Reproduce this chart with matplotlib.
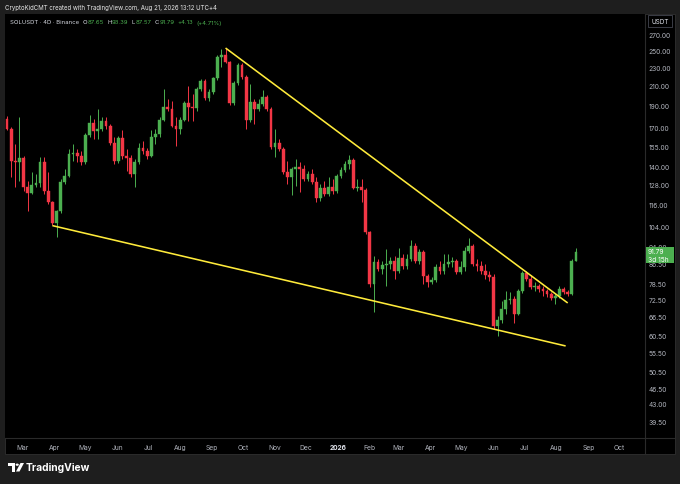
import numpy as np
import pandas as pd
import matplotlib
matplotlib.use('Agg')
import matplotlib.pyplot as plt
from matplotlib.patches import Rectangle, Circle, Polygon
from matplotlib.lines import Line2D
from matplotlib.ticker import NullLocator

plt.rcParams['font.family'] = ['Inter', 'DejaVu Sans']

W, H = 680, 485

# ---- SOLUSDT 4D candles ----
opens = [177.7, 169.1, 144.1, 143.4, 146.3, 126.6, 122.9, 127.9, 129.2, 143.4,
         124.1, 117.5, 106.0, 112.4, 129.8, 133.8, 149.2, 150.0, 147.8, 143.4,
         164.1, 174.1, 167.4, 169.1, 175.9, 171.6, 157.7, 144.1, 161.6, 147.8,
         146.3, 135.1, 143.4, 153.8, 151.5, 147.8, 162.5, 164.9, 176.8, 188.6,
         186.8, 171.6, 169.1, 176.8, 192.5, 188.6, 187.7, 206.3, 214.7, 197.3,
         203.3, 217.9, 242.0, 244.4, 236.0, 192.5, 212.6, 232.5, 219.0, 176.8,
         193.4, 186.8, 191.5, 198.3, 186.8, 154.6, 157.7, 153.0, 136.5, 133.1,
         138.5, 139.9, 138.5, 131.8, 135.1, 129.8, 119.9, 126.0, 122.3, 126.6,
         124.1, 133.8, 137.8, 142.0, 144.8, 126.0, 126.6, 124.8, 101.2, 78.1,
         87.2, 84.2, 85.9, 86.3, 87.6, 83.4, 89.0, 85.5, 88.5, 94.4,
         87.6, 91.6, 81.3, 78.9, 79.7, 85.0, 83.4, 86.3, 87.2, 87.6,
         83.0, 85.0, 92.1, 94.4, 86.3, 85.5, 83.4, 81.7, 80.9, 63.4,
         65.3, 69.0, 72.2, 72.5, 67.3, 75.4, 82.5, 80.1, 77.0, 77.4,
         76.2, 75.4, 74.3, 72.9, 73.6, 76.2, 75.1, 74.3, 87.65]
closes = [169.1, 144.1, 143.4, 146.3, 126.6, 122.9, 127.9, 129.2, 143.4, 124.1,
          117.5, 106.0, 112.4, 129.8, 133.8, 149.2, 150.0, 147.8, 143.4, 164.1,
          174.1, 167.4, 169.1, 175.9, 171.6, 157.7, 144.1, 161.6, 147.8, 146.3,
          135.1, 143.4, 153.8, 151.5, 147.8, 162.5, 164.9, 176.8, 188.6, 186.8,
          171.6, 169.1, 176.8, 192.5, 188.6, 187.7, 206.3, 214.7, 197.3, 203.3,
          217.9, 242.0, 244.4, 236.0, 192.5, 212.6, 232.5, 219.0, 176.8, 193.4,
          186.8, 191.5, 198.3, 186.8, 154.6, 157.7, 153.0, 136.5, 133.1, 138.5,
          139.9, 138.5, 131.8, 135.1, 129.8, 119.9, 126.0, 122.3, 126.6, 124.1,
          133.8, 137.8, 142.0, 144.8, 126.0, 126.6, 124.8, 101.2, 78.1, 87.2,
          84.2, 85.9, 86.3, 87.6, 83.4, 89.0, 85.5, 88.5, 94.4, 87.6,
          91.6, 81.3, 78.9, 79.7, 85.0, 83.4, 86.3, 87.2, 87.6, 83.0,
          85.0, 92.1, 94.4, 86.3, 85.5, 83.4, 81.7, 80.9, 63.4, 65.3,
          69.0, 72.2, 72.5, 67.3, 75.4, 82.5, 80.1, 77.0, 77.4, 76.2,
          75.4, 74.3, 72.9, 73.6, 76.2, 75.1, 74.3, 87.6, 91.79]
highs = [180.4, 170.8, 156.9, 179.5, 147.8, 130.5, 136.5, 135.1, 147.0, 147.0,
         136.5, 118.1, 113.0, 131.8, 138.5, 153.0, 156.9, 153.0, 151.5, 165.8,
         181.3, 177.7, 186.8, 179.5, 179.5, 173.3, 162.5, 163.3, 168.2, 153.0,
         148.5, 145.6, 157.7, 159.3, 153.8, 168.2, 169.1, 179.5, 206.3, 196.3,
         194.4, 179.5, 179.5, 194.4, 209.5, 201.3, 208.4, 216.8, 216.8, 206.3,
         219.0, 244.4, 251.8, 253.0, 237.2, 214.7, 234.9, 234.9, 221.2, 211.5,
         196.3, 196.3, 205.3, 200.3, 188.6, 169.1, 160.9, 154.6, 144.1, 139.9,
         145.6, 143.4, 141.3, 137.1, 138.5, 133.1, 128.5, 130.5, 133.1, 131.8,
         135.1, 139.9, 144.1, 148.5, 146.3, 131.8, 131.8, 126.0, 101.7, 89.8,
         88.5, 87.6, 93.0, 89.4, 89.8, 93.5, 90.7, 90.7, 97.2, 95.8,
         93.0, 92.6, 82.1, 80.9, 86.3, 87.6, 90.7, 90.7, 89.4, 88.5,
         87.6, 93.9, 98.2, 95.3, 88.5, 87.6, 86.3, 83.4, 82.1, 66.7,
         71.8, 75.4, 75.1, 73.6, 76.2, 83.4, 83.4, 81.7, 78.9, 78.1,
         77.4, 76.2, 75.1, 74.3, 77.4, 77.0, 75.8, 88.5, 93.39]
lows = [168.2, 133.1, 126.6, 130.5, 124.1, 112.4, 122.3, 126.6, 126.6, 122.3,
        116.4, 104.8, 98.7, 111.3, 128.5, 133.1, 144.1, 143.4, 141.3, 142.0,
        162.5, 160.9, 160.9, 167.4, 169.1, 156.1, 142.0, 142.7, 145.6, 137.1,
        133.1, 126.6, 142.0, 149.2, 145.6, 147.0, 156.9, 162.5, 175.9, 184.9,
        170.8, 155.3, 164.9, 175.9, 175.9, 175.9, 184.9, 204.3, 195.4, 194.4,
        201.3, 215.8, 230.2, 234.9, 190.5, 190.5, 210.5, 216.8, 169.1, 175.0,
        173.3, 184.9, 189.6, 184.9, 153.0, 147.0, 151.5, 135.1, 128.5, 121.7,
        127.3, 123.5, 130.5, 130.5, 128.5, 117.5, 118.1, 121.1, 121.1, 122.3,
        122.9, 132.5, 136.5, 138.5, 125.4, 124.1, 117.5, 100.2, 77.0, 67.9,
        83.4, 82.1, 77.4, 84.2, 80.1, 82.5, 84.2, 84.2, 87.6, 86.8,
        86.3, 78.1, 77.0, 78.1, 78.9, 82.1, 82.1, 85.0, 85.0, 82.1,
        82.1, 83.4, 91.2, 85.5, 83.4, 82.1, 80.1, 79.3, 62.5, 60.3,
        64.3, 67.3, 70.8, 64.3, 67.0, 74.7, 79.3, 76.2, 75.4, 75.1,
        73.6, 73.3, 72.2, 70.8, 72.9, 74.3, 73.6, 74.0, 87.57]
dates = pd.date_range(end='2026-08-20', periods=len(closes), freq='4D')

# falling wedge drawn on the chart
upper_dates = pd.to_datetime(['2025-09-14', '2026-08-12'])
upper_prices = [253.0, 71.1]
lower_dates = pd.to_datetime(['2025-03-30', '2026-08-10'])
lower_prices = [104.5, 57.4]

price_ticks = [270, 250, 230, 210, 190, 170, 155, 140, 128, 116, 104, 94,
               86.5, 78.5, 72.5, 66.5, 60.5, 55.5, 50.5, 46.5, 43, 39.5]
month_ticks = pd.date_range('2025-03-01', '2026-10-01', freq='MS')
month_labels = [str(d.year) if d.month == 1 else d.strftime('%b') for d in month_ticks]

legend_parts = [('SOLUSDT · 4D · Binance', ''), ('O', '87.65'), ('H', '93.39'),
                ('L', '87.57'), ('C', '91.79'), ('', '+4.13'), ('', '(+4.71%)')]

GREEN = '#4caf50'
RED = '#f23645'
TXT = '#d1d4dc'
AX_TXT = '#b2b5be'
LINE = '#2a2a2a'

def fx(x):
    return x / W

def fy(y):
    return 1 - y / H

fig = plt.figure(figsize=(6.8, 4.85), dpi=100)
fig.patch.set_facecolor('#1e1e1e')

# black chart panel
fig.add_artist(Rectangle((fx(5), fy(455)), fx(670), (455 - 15) / H, transform=fig.transFigure,
                         facecolor='black', edgecolor='#303030', lw=0.6, zorder=-1))

ax = fig.add_axes([fx(5), fy(439), fx(640), (439 - 15) / H])
ax.set_facecolor('black')

o = np.array(opens)
c = np.array(closes)
cols = np.where(c >= o, GREEN, RED)
ax.vlines(dates, lows, highs, colors=cols, lw=0.7, zorder=2)
ax.bar(dates, np.abs(c - o), bottom=np.minimum(o, c), width=2.7,
       color=cols, edgecolor=cols, lw=0.3, zorder=3)

ax.plot(upper_dates, upper_prices, color='#ffeb3b', lw=1.15, zorder=4, solid_capstyle='butt')
ax.plot(lower_dates, lower_prices, color='#ffeb3b', lw=1.15, zorder=4, solid_capstyle='butt')

ax.set_yscale('log')
ax.set_ylim(36.3, 299.7)
ax.set_xlim(pd.Timestamp('2025-02-12'), pd.Timestamp('2026-10-26'))

ax.yaxis.tick_right()
ax.set_yticks(price_ticks)
ax.set_yticklabels([f'{p:.2f}' for p in price_ticks])
ax.yaxis.set_minor_locator(NullLocator())
ax.tick_params(axis='y', length=0, pad=2.5, labelsize=4.8, labelcolor=AX_TXT)

ax.set_xticks(month_ticks)
ax.set_xticklabels(month_labels)
ax.tick_params(axis='x', length=0, pad=4.5, labelsize=4.8, labelcolor=AX_TXT)
for lab in ax.get_xticklabels():
    if lab.get_text() == '2026':
        lab.set_fontweight('bold')
        lab.set_color('#e0e3eb')

for s in ['left', 'top', 'right', 'bottom']:
    ax.spines[s].set_visible(False)

# separators of price and time scales
fig.add_artist(Line2D([fx(645), fx(645)], [fy(15), fy(455)], transform=fig.transFigure, color=LINE, lw=0.8))
fig.add_artist(Line2D([fx(5), fx(675)], [fy(439), fy(439)], transform=fig.transFigure, color=LINE, lw=0.8))

# last price label
fig.add_artist(Rectangle((fx(645.5), fy(264)), fx(28), 16 / H, transform=fig.transFigure,
                         facecolor=GREEN, edgecolor='none', zorder=5))
fig.text(fx(648), fy(252.5), '91.79', color='white', fontsize=4.8, va='center', ha='left', zorder=6)
fig.text(fx(648), fy(260), '3d 15h', color='white', fontsize=4.8, va='center', ha='left', zorder=6)

# currency box
fig.add_artist(Rectangle((fx(648), fy(28)), fx(24), 12 / H, transform=fig.transFigure,
                         facecolor='black', edgecolor='#434651', lw=0.6, zorder=5))
fig.text(fx(660), fy(22), 'USDT', color='#e0e3eb', fontsize=4.6, va='center', ha='center', zorder=6)

# header
fig.text(fx(5), fy(8), 'CryptoKidCMT created with TradingView.com, Aug 21, 2026 13:12 UTC+4',
         color='#e6e6e6', fontsize=4.4, va='center', ha='left')

# symbol legend, pieces laid out one after the other
r = fig.canvas.get_renderer()
x = 10
for letter, val in legend_parts:
    if letter:
        t = fig.text(fx(x), fy(23), letter, color=TXT, fontsize=4.3, va='center', ha='left')
        x += t.get_window_extent(renderer=r).width + 0.4
    if val:
        t = fig.text(fx(x), fy(23), val, color=GREEN, fontsize=4.3, va='center', ha='left')
        x += t.get_window_extent(renderer=r).width
    x += 3.2

# TradingView logo
fig.add_artist(Polygon([(fx(8), fy(464)), (fx(15), fy(464)), (fx(15), fy(472.5)),
                        (fx(12), fy(472.5)), (fx(12), fy(467.3)), (fx(8), fy(467.3))],
                       closed=True, transform=fig.transFigure, facecolor='white', edgecolor='none'))
fig.add_artist(Circle((fx(17.2), fy(465.7)), 1.6 / W, transform=fig.transFigure,
                      facecolor='white', edgecolor='none'))
fig.add_artist(Polygon([(fx(20.5), fy(464)), (fx(24), fy(464)), (fx(19.5), fy(472.5)), (fx(16), fy(472.5))],
                       closed=True, transform=fig.transFigure, facecolor='white', edgecolor='none'))
fig.text(fx(25.5), fy(468.5), 'TradingView', color='white', fontsize=7.4, va='center', ha='left',
         fontweight='bold')

fig.savefig('out.png', dpi=100, facecolor=fig.get_facecolor())
